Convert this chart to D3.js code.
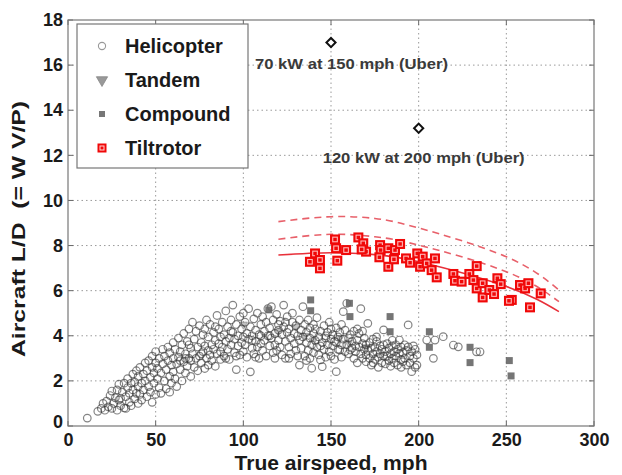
<!DOCTYPE html>
<html><head><meta charset="utf-8">
<script src="https://cdn.jsdelivr.net/npm/d3@7"></script>
<style>body{margin:0;background:#fff} text{font-family:"Liberation Sans",Arial,Helvetica,sans-serif}</style>
</head><body><svg id="c" width="622" height="475"></svg>
<script>
const xTicks=[0,50,100,150,200,250,300];
const yTicks=[0,2,4,6,8,10,12,14,16,18];
const legendLabels=["Helicopter","Tandem","Compound","Tiltrotor"];
const annotations=[{speed:150,ld:17.0,label:"70 kW at 150 mph (Uber)"},{speed:200,ld:13.2,label:"120 kW at 200 mph (Uber)"}];
const fitSpeed=[120,150,175,200,250,280];
const fitSolid=[7.58,7.68,7.6,7.28,6.18,5.07];
const fitMid=[8.28,8.5,8.39,8.02,6.84,5.51];
const fitUpper=[9.06,9.28,9.2,8.78,7.5,6.03];
const tiltrotor=[[140.9,7.65],[138.0,7.28],[143.7,7.36],[143.7,6.99],[152.3,8.27],[152.9,7.88],[153.6,7.33],[158.6,7.80],[165.6,8.36],[168.4,8.10],[170,7.73],[167.5,7.83],[178,8.02],[178.3,7.80],[177.6,7.48],[182.7,7.88],[182.7,7.06],[186.5,7.80],[189.4,8.07],[185.9,7.39],[192.8,7.43],[195.1,7.24],[199.2,7.65],[202.3,7.51],[200.8,7.06],[204.6,7.21],[209.3,7.43],[207.4,6.91],[210.3,6.59],[219.8,6.74],[220.7,6.44],[224.5,6.40],[228.9,6.74],[233.1,7.09],[231.2,6.47],[233.1,6.10],[236.5,6.33],[236.5,5.70],[240.3,6.03],[243,5.85],[244.9,6.55],[246.8,6.29],[253.1,5.59],[257.8,6.25],[260.7,6.10],[262.6,6.33],[263.5,5.26],[269.6,5.88],[251.5,5.55]];
const compound=[[138.4,5.59],[138.4,5.11],[160.5,5.44],[160.8,4.85],[183.7,4.85],[183.7,4.18],[206.1,4.18],[206.1,3.49],[229.3,3.49],[229.3,2.81],[251.7,2.90],[252.7,2.22],[114.5,5.15]];
const tandem=[[100,4.5],[120,4.2],[130,4.4],[135,4.0],[140,3.8],[155,3.9],[160,3.7],[170,3.5]];
const helicopter=[
[11,0.35],[19,0.78],[17,0.65],[20,1.0],
[21,0.7],[22,1.1],[23,0.85],[24,1.35],[25,0.78],[25,1.55],[26,1.0],[27,1.25],[28,0.7],[28,1.6],[29,1.15],[30,1.23],[30,0.9],[29,1.85],
[31,1.5],[32,0.8],[32,1.9],[33,0.78],[33,1.3],[34,1.7],[34,2.1],[35,1.05],[35,1.45],[36,1.9],[36,0.9],[37,1.6],[37,2.3],[38,1.2],[38,1.95],[39,1.45],[39,2.45],[40,1.75],[40,1.0],[40,2.2],
[41,1.4],[41,2.6],[42,1.9],[42,1.15],[43,2.3],[43,1.6],[44,2.8],[44,2.0],[45,1.3],[45,2.45],[46,1.75],[46,2.9],[47,2.15],[47,1.5],[48,2.6],[48,3.1],[49,1.9],[49,2.35],[50,1.4],[50,2.8],[50,3.3],[48,1.05],
[51,2.1],[51,2.55],[52,1.7],[52,3.0],[53,2.35],[53,1.45],[54,2.75],[54,3.4],[55,2.0],[55,3.1],[56,2.5],[56,1.65],[57,2.9],[57,3.5],[58,2.2],[58,3.25],[59,1.9],[59,2.7],[60,3.0],[60,2.4],[60,3.7],[58,1.5],
[61,2.1],[61,3.4],[62,2.75],[62,1.75],[63,3.05],[63,3.9],[64,2.5],[64,3.3],[65,2.0],[65,3.6],[66,2.85],[66,4.1],[67,2.35],[67,3.2],[68,3.75],[68,2.65],[69,3.0],[69,4.3],[70,2.2],[70,3.45],[70,2.9],[67,3.0],[64,2.9],[69,3.6],
[71,4.6],[71,3.2],[72,2.6],[72,3.85],[73,3.0],[73,4.2],[74,2.45],[74,3.5],[75,3.1],[75,4.45],[76,2.8],[76,3.7],[77,3.3],[77,4.05],[78,2.55],[78,3.55],[79,3.0],[79,4.7],[80,3.35],[80,3.95],[80,2.7],[76,3.2],[78,4.3],
[81,3.15],[81,4.5],[82,3.6],[82,2.9],[83,4.15],[83,3.4],[84,2.65],[84,3.8],[85,4.9],[85,3.2],[86,3.65],[86,4.3],[87,2.95],[87,3.95],[88,3.5],[88,4.6],[89,3.1],[89,4.05],[90,5.1],[90,3.75],[90,3.0],[84,4.4],[87,3.3],
[91,4.4],[91,3.4],[92,3.9],[92,2.95],[93,4.7],[93,3.6],[94,5.36],[94,4.15],[95,3.25],[95,3.85],[96,2.5],[96,4.5],[97,3.55],[97,4.0],[98,4.85],[98,3.15],[99,3.7],[99,4.3],[100,3.95],[100,5.0],[100,3.3],[96,3.1],[93,4.2],
[101,4.6],[101,3.6],[102,4.1],[102,3.05],[103,5.2],[103,3.85],[104,2.4],[104,4.4],[105,3.45],[105,4.0],[106,4.75],[106,3.2],[107,3.75],[107,4.25],[108,5.0],[108,3.5],[109,4.05],[109,3.0],[110,4.5],[110,3.65],[110,4.0],[105,3.8],[107,3.05],
[111,4.85],[111,3.35],[112,4.2],[112,3.8],[113,3.1],[113,4.6],[114,4.0],[114,5.2],[115,3.55],[115,4.35],[116,5.29],[116,3.9],[117,3.25],[117,4.7],[118,4.1],[118,3.6],[119,4.95],[119,3.35],[120,4.25],[120,3.8],[120,4.5],[115,4.0],[118,3.0],
[121,3.5],[121,4.65],[122,4.05],[122,3.15],[123,5.36],[123,4.4],[124,3.75],[124,3.0],[125,4.15],[125,4.85],[126,3.5],[126,4.3],[127,3.9],[127,3.2],[128,4.6],[128,5.0],[129,3.65],[129,4.1],[130,3.35],[130,4.45],[132,2.7],[126,3.0],[124,4.6],
[131,4.0],[131,3.1],[132,4.7],[132,3.8],[133,4.25],[133,3.45],[134,5.29],[134,3.95],[135,3.1],[135,4.5],[136,3.7],[136,4.15],[137,4.7],[137,3.35],[138,3.9],[138,4.35],[139,2.56],[139,3.6],[140,4.1],[140,3.25],[140,4.5],[136,2.9],[138,3.0],
[141,3.8],[141,4.3],[142,3.5],[142,4.8],[143,3.95],[143,3.15],[144,4.2],[144,2.93],[145,2.63],[145,3.7],[146,4.45],[146,3.4],[147,3.9],[147,3.05],[148,4.15],[148,3.6],[149,3.3],[149,4.6],[150,3.85],[150,3.1],[150,4.3],[144,3.55],[147,4.0],
[151,3.55],[151,4.05],[152,2.95],[152,3.75],[153,2.41],[153,4.35],[154,3.4],[154,3.95],[155,3.37],[155,4.15],[156,3.6],[156,3.05],[157,5.07],[157,3.85],[158,3.3],[158,4.25],[159,5.44],[159,3.6],[160,3.9],[160,3.2],[161,3.37],[156,4.5],[153,3.7],
[161,4.05],[162,3.45],[162,3.75],[163,3.0],[163,4.2],[164,3.55],[164,3.3],[165,3.8],[165,2.8],[166,3.5],[166,4.1],[167,3.2],[167,5.2],[168,3.65],[168,3.0],[169,3.4],[169,3.9],[170,3.15],[170,3.6],[170,2.85],[165,4.3],[168,4.2],
[171,4.55],[171,3.35],[172,3.0],[172,3.7],[173,3.45],[173,2.7],[174,3.2],[174,3.85],[175,3.5],[175,2.95],[176,3.3],[176,3.75],[177,3.05],[177,2.6],[178,3.55],[178,3.2],[179,3.4],[179,2.8],[180,4.26],[180,3.6],[180,3.1],[176,3.95],[174,2.8],
[181,3.3],[181,2.75],[182,3.65],[182,3.1],[183,2.9],[183,3.45],[184,3.2],[184,2.65],[185,3.55],[185,3.0],[186,3.3],[186,2.8],[187,3.6],[187,3.1],[188,2.7],[188,3.4],[189,3.81],[189,3.22],[190,2.95],[190,3.5],[190,2.6],[185,3.8],
[191,3.25],[191,2.85],[192,3.6],[192,3.0],[193,2.7],[193,3.35],[194,4.48],[194,3.51],[195,3.1],[195,2.8],[196,2.41],[196,3.3],[197,3.0],[198,2.6],[198,3.4],[199,2.7],[199,3.15],[197,3.55],
[204.6,3.81],[209.3,3.81],[214,3.96],[208.4,3.0],[219.8,3.59],[222.6,3.51],[233,3.29],[235,3.29]
];

const svg=d3.select("#c");
const x=d3.scaleLinear().domain([0,300]).range([68,594]);
const y=d3.scaleLinear().domain([0,18]).range([426,20]);
const X0=x(0),X1=x(300),Y0=y(0),Y1=y(18);

svg.append("rect").attr("width",622).attr("height",475).attr("fill","#fff");

// grid
const grid=svg.append("g").attr("stroke","#9a9a9a").attr("stroke-width",1).attr("stroke-dasharray","1.5,3");
grid.selectAll(".vg").data(xTicks.slice(1,-1)).join("line").attr("x1",d=>x(d)).attr("x2",d=>x(d)).attr("y1",Y0).attr("y2",Y1);
grid.selectAll(".hg").data(yTicks.slice(1,-1)).join("line").attr("y1",d=>y(d)).attr("y2",d=>y(d)).attr("x1",X0).attr("x2",X1);

// axes
const ax=svg.append("g").attr("transform",`translate(0,${Y0})`).call(d3.axisBottom(x).tickValues(xTicks).tickSize(0).tickPadding(7).tickFormat(d3.format("d")));
const ay=svg.append("g").attr("transform",`translate(${X0},0)`).call(d3.axisLeft(y).tickValues(yTicks).tickSize(0).tickPadding(5).tickFormat(d3.format("d")));
[ax,ay].forEach(a=>{a.select(".domain").remove();a.selectAll("text").attr("font-size",18).attr("font-weight","bold").attr("fill","#1a1a1a").style("font-family","'Liberation Sans',Arial,sans-serif");});
ay.selectAll(".tick").filter(d=>d===0).select("text").attr("dy","0.1em");

// inner ticks
const tk=svg.append("g").attr("stroke","#666").attr("stroke-width",1);
tk.selectAll(".bt").data(xTicks).join("line").attr("x1",d=>x(d)).attr("x2",d=>x(d)).attr("y1",Y0).attr("y2",Y0-5);
tk.selectAll(".tt").data(xTicks).join("line").attr("x1",d=>x(d)).attr("x2",d=>x(d)).attr("y1",Y1).attr("y2",Y1+5);
tk.selectAll(".lt").data(yTicks).join("line").attr("y1",d=>y(d)).attr("y2",d=>y(d)).attr("x1",X0).attr("x2",X0+5);
tk.selectAll(".rt").data(yTicks).join("line").attr("y1",d=>y(d)).attr("y2",d=>y(d)).attr("x1",X1).attr("x2",X1-5);

// tandem (mostly hidden in the helicopter cloud)
const tri=d3.symbol().type(d3.symbolTriangle).size(30);
svg.append("g").selectAll("path").data(tandem).join("path")
 .attr("d",tri).attr("transform",d=>`translate(${x(d[0])},${y(d[1])}) rotate(180)`)
 .attr("fill","#888").attr("fill-opacity",0.5).attr("stroke","#777").attr("stroke-opacity",0.6).attr("stroke-width",0.8);

// helicopter
svg.append("g").selectAll("circle").data(helicopter).join("circle")
 .attr("cx",d=>x(d[0])).attr("cy",d=>y(d[1])).attr("r",3.8)
 .attr("fill","none").attr("stroke","#383838").attr("stroke-opacity",0.62).attr("stroke-width",1.2);

// compound
svg.append("g").selectAll("rect").data(compound).join("rect")
 .attr("x",d=>x(d[0])-3.5).attr("y",d=>y(d[1])-3.5).attr("width",7).attr("height",7)
 .attr("fill","#666").attr("fill-opacity",0.9);

// fit lines
const line=d3.line().x((d,i)=>x(fitSpeed[i])).y(d=>y(d)).curve(d3.curveNatural);
svg.append("path").attr("d",line(fitUpper)).attr("fill","none").attr("stroke","#e8606a").attr("stroke-width",1.6).attr("stroke-dasharray","7,5");
svg.append("path").attr("d",line(fitMid)).attr("fill","none").attr("stroke","#e8606a").attr("stroke-width",1.6).attr("stroke-dasharray","7,5");
svg.append("path").attr("d",line(fitSolid)).attr("fill","none").attr("stroke","#e8303a").attr("stroke-width",1.6);

// tiltrotor
const tg=svg.append("g").selectAll("g").data(tiltrotor).join("g").attr("transform",d=>`translate(${x(d[0])},${y(d[1])})`);
tg.append("rect").attr("x",-5).attr("y",-5).attr("width",10).attr("height",10).attr("fill","#f00808");
tg.append("rect").attr("x",-2.3).attr("y",-2.3).attr("width",4.6).attr("height",4.6).attr("fill","none").attr("stroke","#ffb8b8").attr("stroke-width",1.1);

// annotations
const dia=d3.symbol().type(d3.symbolSquare).size(42);
svg.append("g").selectAll("path").data(annotations).join("path")
 .attr("d",dia).attr("transform",d=>`translate(${x(d.speed)},${y(d.ld)}) rotate(45)`)
 .attr("fill","#fff").attr("stroke","#111").attr("stroke-width",2);
svg.append("text").attr("x",x(150)-76).attr("y",y(17)+26).attr("font-size",15).attr("font-weight","bold").attr("fill","#3a3a3a")
 .attr("textLength",193).attr("lengthAdjust","spacingAndGlyphs").text(annotations[0].label);
svg.append("text").attr("x",x(200)-96).attr("y",y(13.2)+35).attr("font-size",15).attr("font-weight","bold").attr("fill","#3a3a3a")
 .attr("textLength",202).attr("lengthAdjust","spacingAndGlyphs").text(annotations[1].label);

// frame
svg.append("rect").attr("x",X0).attr("y",Y1).attr("width",X1-X0).attr("height",Y0-Y1).attr("fill","none").attr("stroke","#777").attr("stroke-width",1.2);

// axis titles
svg.append("text").attr("x",(X0+X1)/2).attr("y",470).attr("text-anchor","middle").attr("font-size",20).attr("font-weight","bold").attr("fill","#1a1a1a")
 .attr("textLength",193).attr("lengthAdjust","spacingAndGlyphs").text("True airspeed, mph");
svg.append("text").attr("transform","translate(25,229) rotate(-90)").attr("text-anchor","middle").attr("font-size",18).attr("font-weight","bold").attr("fill","#1a1a1a")
 .attr("textLength",256).attr("lengthAdjust","spacingAndGlyphs").attr("xml:space","preserve").style("white-space","pre").text("Aircraft L/D  (= W V/P)");

// legend
const lg=svg.append("g");
lg.append("rect").attr("x",77).attr("y",24).attr("width",171).attr("height",144).attr("fill","#fff").attr("stroke","#777").attr("stroke-width",1.2);
const ly=[46,80,114,148];
const items=lg.selectAll("g").data(legendLabels).join("g").attr("transform",(d,i)=>`translate(102,${ly[i]})`);
items.append("text").attr("x",23).attr("y",7).attr("font-size",20).attr("font-weight","bold").attr("fill","#1a1a1a").text(d=>d);
items.filter((d,i)=>i===0).append("circle").attr("r",3.6).attr("fill","none").attr("stroke","#999").attr("stroke-width",1.1);
items.filter((d,i)=>i===1).append("path").attr("d",d3.symbol().type(d3.symbolTriangle).size(55)).attr("transform","rotate(180)").attr("fill","#999").attr("stroke","#888").attr("stroke-width",0.8);
items.filter((d,i)=>i===2).append("rect").attr("x",-3).attr("y",-3).attr("width",6).attr("height",6).attr("fill","#777");
const tl=items.filter((d,i)=>i===3);
tl.append("rect").attr("x",-4.5).attr("y",-4.5).attr("width",9).attr("height",9).attr("fill","#f00808");
tl.append("rect").attr("x",-2).attr("y",-2).attr("width",4).attr("height",4).attr("fill","none").attr("stroke","#ffd6d6").attr("stroke-width",1);
</script></body></html>
